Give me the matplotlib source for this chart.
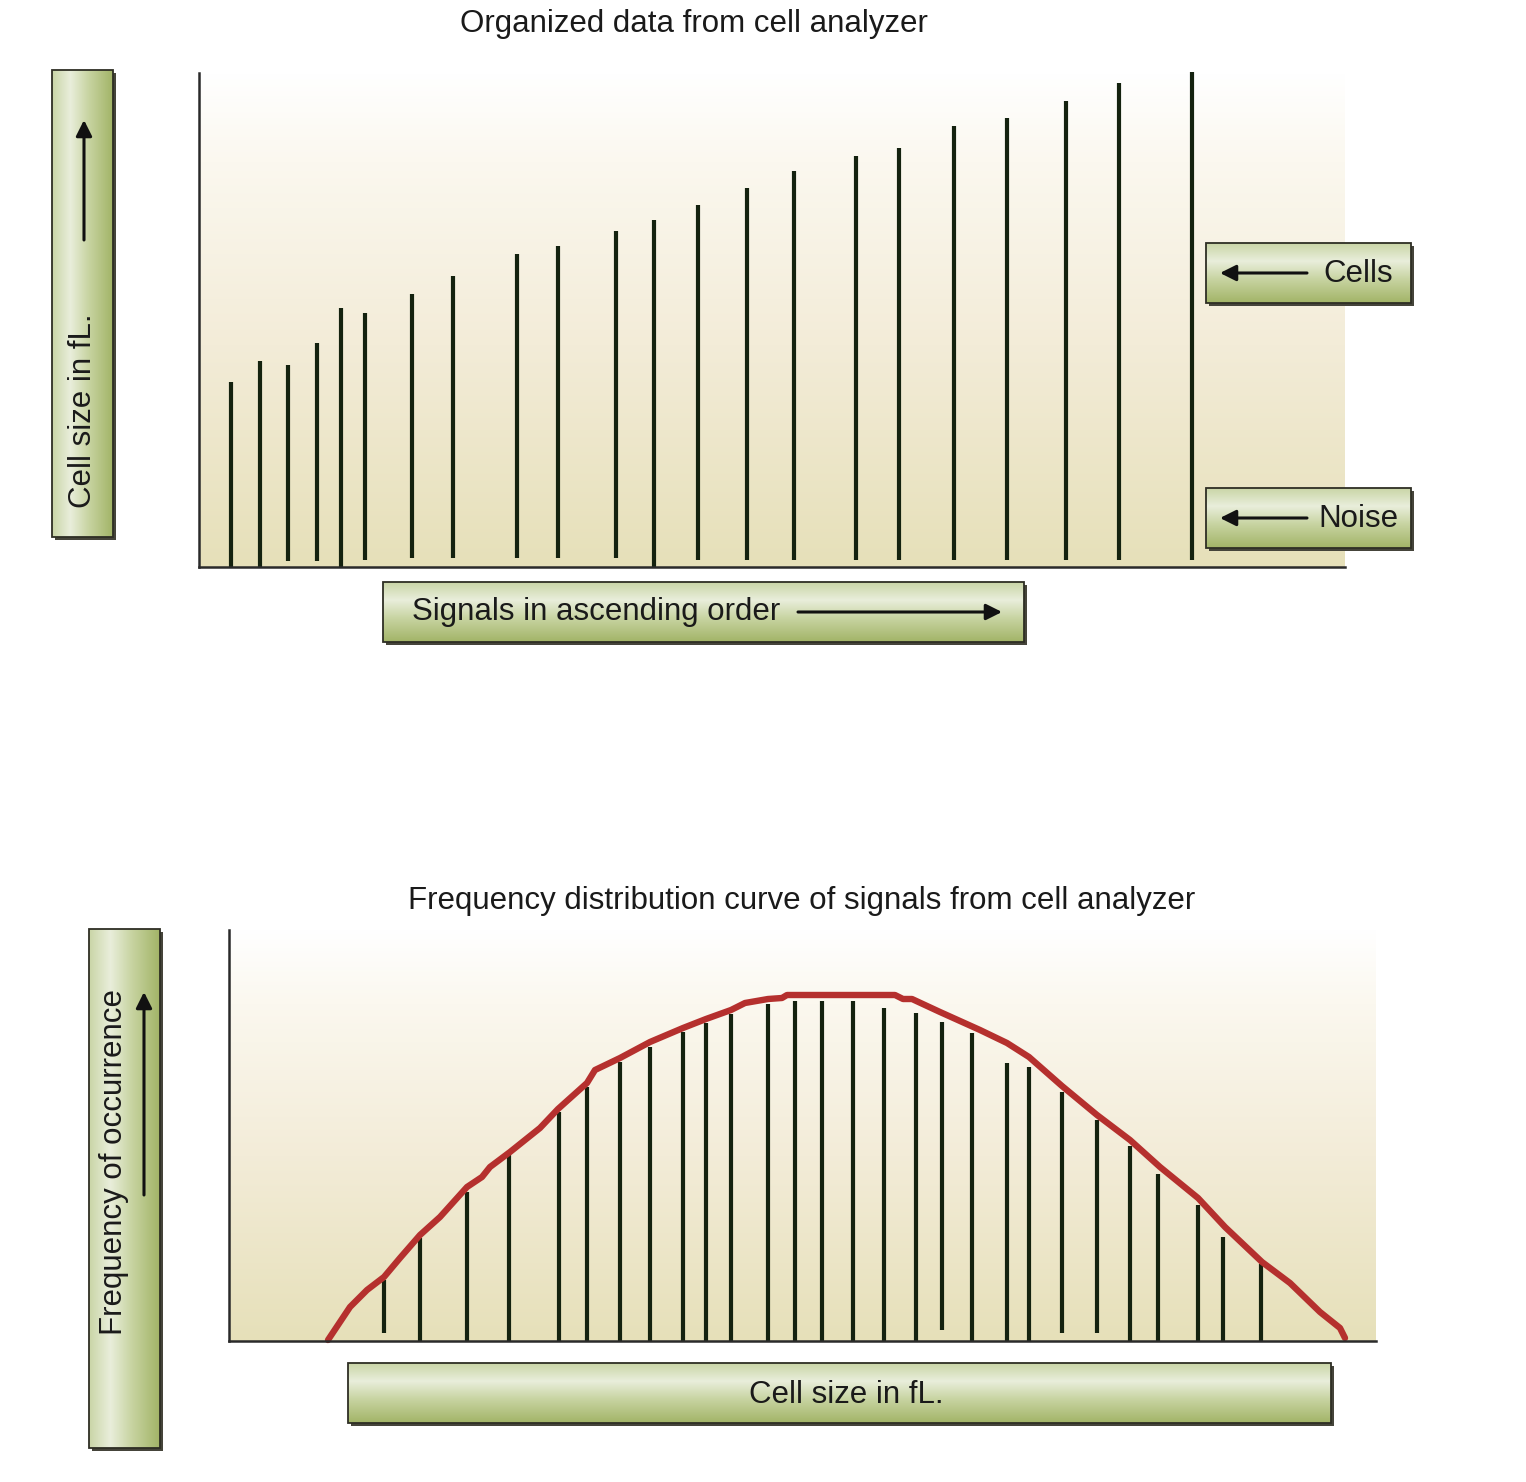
import numpy as np
import matplotlib
matplotlib.use("Agg")
import matplotlib.pyplot as plt
from matplotlib.colors import LinearSegmentedColormap
from matplotlib.patches import Rectangle

plt.rcParams['font.family'] = ['Liberation Sans', 'DejaVu Sans']

# ---------------- data ----------------
# Top chart: signals sorted in ascending order
signal_pos = [32, 61, 89, 118, 142, 166, 213, 254, 318, 359, 417, 455, 499, 548,
              595, 657, 700, 755, 808, 867, 920, 993]
signal_size = [185, 206, 202, 224, 259, 254, 273, 291, 313, 321, 336, 347, 362, 379,
               396, 411, 419, 441, 449, 466, 484, 495]
signal_start = [0, 0, 6, 6, 0, 7, 9, 9, 9, 9, 9, 0, 7, 7, 7, 7, 7, 7, 7, 7, 7, 7]

# Bottom chart: frequency distribution
size_bins = [155, 191, 238, 280, 330, 358, 391, 421, 454, 477, 502, 539, 566, 593,
             624, 655, 687, 713, 743, 778, 800, 833, 868, 901, 929, 969, 994, 1032]
bin_freq = [61, 103, 149, 186, 229, 254, 279, 294, 309, 318, 327, 337, 340, 340,
            340, 333, 328, 319, 308, 278, 274, 249, 221, 195, 167, 136, 104, 77]
bin_start = [8, 0, 0, 0, 0, 0, 0, 0, 0, 0, 0, 0, 0, 0,
             0, 0, 0, 11, 0, 0, 0, 8, 8, 0, 0, 0, 0, 0]

curve_x = [99, 121, 138, 155, 171, 191, 211, 238, 253, 261, 281, 311, 329, 358, 366,
           391, 421, 454, 477, 502, 516, 539, 553, 558, 666, 674, 683, 711, 751, 778,
           800, 833, 868, 901, 931, 969, 996, 1033, 1061, 1091, 1111, 1116]
curve_y = [1, 34, 51, 64, 83, 106, 124, 154, 164, 174, 189, 213, 232, 258, 271,
           283, 299, 313, 322, 331, 338, 342, 343, 346, 346, 342, 342, 329, 311, 298,
           284, 255, 226, 201, 174, 143, 114, 79, 58, 29, 13, 3]

title_top = "Organized data from cell analyzer"
title_bottom = "Frequency distribution curve of signals from cell analyzer"

# ---------------- figure ----------------
W, H = 1526, 1482
fig = plt.figure(figsize=(W / 100, H / 100), dpi=100)
fig.patch.set_facecolor('white')

bg_cmap = LinearSegmentedColormap.from_list(
    'bg', [(0.0, '#e6e0b9'), (0.45, '#f3ecd8'), (0.82, '#fbf8ef'), (1.0, '#ffffff')])
bar_color = '#14220f'
spine_color = '#2a2a2a'


def px_axes(x0, y0, x1, y1):
    return fig.add_axes([x0 / W, 1 - y1 / H, (x1 - x0) / W, (y1 - y0) / H])


def style_axes(ax):
    ax.set_facecolor('none')
    grad = np.linspace(0, 1, 256).reshape(-1, 1)
    ax.imshow(grad, extent=(0, 1, 0, 1), transform=ax.transAxes, origin='lower',
              cmap=bg_cmap, aspect='auto', zorder=0)
    for s in ['top', 'right']:
        ax.spines[s].set_visible(False)
    for s in ['left', 'bottom']:
        ax.spines[s].set_color(spine_color)
        ax.spines[s].set_linewidth(1.8)
        ax.spines[s].set_zorder(5)
    ax.set_xticks([])
    ax.set_yticks([])


# top chart
ax1 = px_axes(199, 73, 1345, 567)
style_axes(ax1)
ax1.vlines(signal_pos, signal_start, signal_size, color=bar_color, lw=3.0,
           zorder=3, clip_on=False)
ax1.set_xlim(0, 1146)
ax1.set_ylim(0, 494)

# bottom chart
ax2 = px_axes(229, 930, 1376, 1341)
style_axes(ax2)
ax2.vlines(size_bins, bin_start, bin_freq, color=bar_color, lw=3.0, zorder=3)
ax2.plot(curve_x, curve_y, color='#b5302e', lw=4.6, solid_capstyle='round',
         solid_joinstyle='round', zorder=4, clip_on=False)
ax2.set_xlim(0, 1147)
ax2.set_ylim(0, 411)

# ---------------- overlay: titles and label boxes ----------------
ov = fig.add_axes([0, 0, 1, 1], zorder=10)
ov.set_axis_off()
ov.patch.set_alpha(0)

box_cmap = LinearSegmentedColormap.from_list(
    'box', [(0.0, '#c9d5a6'), (0.3, '#e9eedb'), (0.6, '#c8d4a2'), (1.0, '#a2b467')])


def gbox(x0, y0, x1, y1, vertical):
    ov.add_patch(Rectangle((x0 + 3, y0 + 3), x1 - x0, y1 - y0,
                           facecolor='#45443a', edgecolor='none', zorder=1))
    if vertical:
        g = np.linspace(0, 1, 256).reshape(1, -1)
    else:
        g = np.linspace(0, 1, 256).reshape(-1, 1)
    ov.imshow(g, extent=(x0, x1, y1, y0), origin='upper', cmap=box_cmap,
              aspect='auto', zorder=2)
    ov.add_patch(Rectangle((x0, y0), x1 - x0, y1 - y0, facecolor='none',
                           edgecolor='#2e2e24', lw=1.3, zorder=3))


def arrow(x0, y0, x1, y1):
    ov.annotate('', xy=(x1, y1), xytext=(x0, y0),
                arrowprops=dict(arrowstyle='-|>', lw=2.2, color='#111111',
                                mutation_scale=24, shrinkA=0, shrinkB=0),
                zorder=4)


fs = 22.5
txt_color = '#1a1a1a'

ov.text(694, 24, title_top, fontsize=fs, ha='center', va='center', color=txt_color)
ov.text(802, 901, title_bottom, fontsize=fs, ha='center', va='center', color=txt_color)

# y label box top
gbox(52, 70, 113, 537, True)
ov.text(83, 411, "Cell size in fL.", fontsize=fs, rotation=90, ha='center',
        va='center', color=txt_color, zorder=5)
arrow(84, 240, 84, 120)

# x label box top
gbox(383, 582, 1024, 642, False)
ov.text(412, 612, "Signals in ascending order", fontsize=fs, ha='left',
        va='center', color=txt_color, zorder=5)
arrow(798, 612, 1002, 612)

# Cells / Noise boxes
gbox(1206, 243, 1411, 303, False)
arrow(1307, 273, 1220, 273)
ov.text(1358, 274, "Cells", fontsize=fs, ha='center', va='center',
        color=txt_color, zorder=5)
gbox(1206, 488, 1411, 548, False)
arrow(1307, 518, 1220, 518)
ov.text(1358, 519, "Noise", fontsize=fs, ha='center', va='center',
        color=txt_color, zorder=5)

# y label box bottom
gbox(89, 929, 160, 1448, True)
ov.text(114, 1162, "Frequency of occurrence", fontsize=fs, rotation=90,
        ha='center', va='center', color=txt_color, zorder=5)
arrow(144, 1195, 144, 992)

# x label box bottom
gbox(348, 1363, 1331, 1423, False)
ov.text(846, 1395, "Cell size in fL.", fontsize=fs, ha='center', va='center',
        color=txt_color, zorder=5)

ov.set_xlim(0, W)
ov.set_ylim(H, 0)

fig.savefig('out.png', dpi=100, facecolor='white')
